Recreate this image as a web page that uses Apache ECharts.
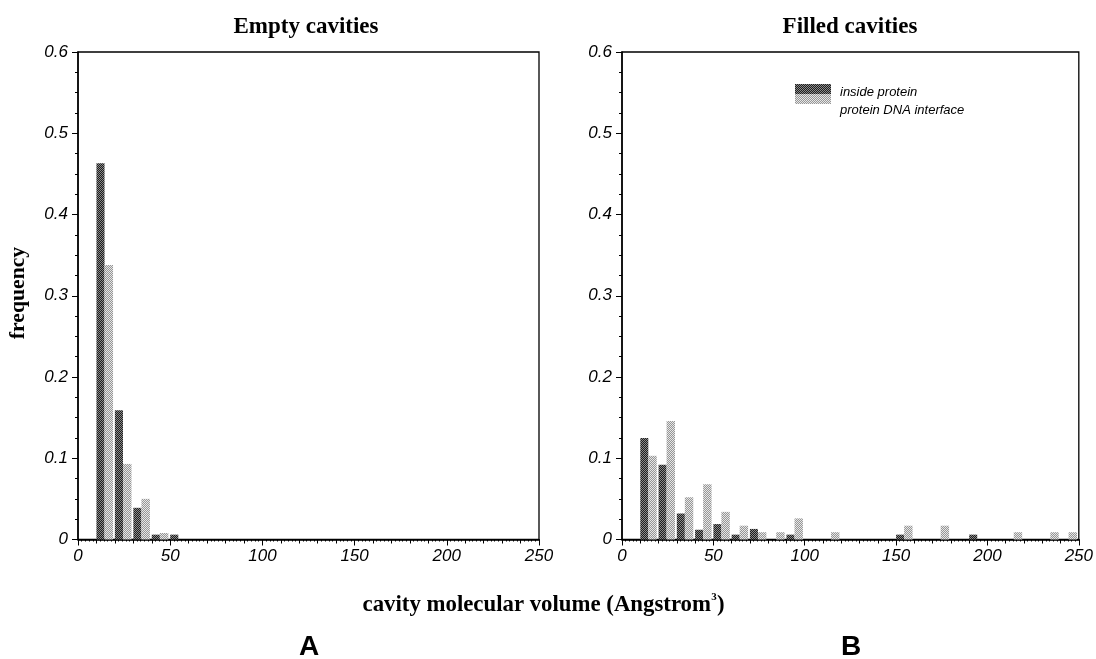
<!DOCTYPE html>
<html>
<head>
<meta charset="utf-8">
<script src="https://cdn.jsdelivr.net/npm/echarts@6/dist/echarts.min.js"></script>
<style>
html,body{margin:0;padding:0;background:#fff;}
#chart{width:1096px;height:659px;}
</style>
</head>
<body>
<div id="chart"></div>
<script>
// ---- data (bin start in Angstrom^3, bin width 10) ----
var binStarts = [10, 20, 30, 40, 50, 60, 70, 80, 90, 100, 110, 120, 130, 140, 150, 160, 170, 180, 190, 200, 210, 220, 230, 240];
var emptyInside    = [0.463, 0.159, 0.039, 0.006, 0.006, 0, 0, 0, 0, 0, 0, 0, 0, 0, 0, 0, 0, 0, 0, 0, 0, 0, 0, 0];
var emptyInterface = [0.338, 0.093, 0.050, 0.008, 0, 0, 0, 0, 0, 0, 0, 0, 0, 0, 0, 0, 0, 0, 0, 0, 0, 0, 0, 0];
var filledInside    = [0.125, 0.092, 0.032, 0.012, 0.019, 0.006, 0.013, 0, 0.006, 0, 0, 0, 0, 0, 0.006, 0, 0, 0, 0.006, 0, 0, 0, 0, 0];
var filledInterface = [0.103, 0.146, 0.052, 0.068, 0.034, 0.017, 0.009, 0.009, 0.026, 0, 0.009, 0, 0, 0, 0.017, 0, 0.017, 0, 0, 0, 0.009, 0, 0.009, 0.009];
var yTicks = [0, 0.1, 0.2, 0.3, 0.4, 0.5, 0.6];
var xTicks = [0, 50, 100, 150, 200, 250];
var panelTitles = ['Empty cavities', 'Filled cavities'];
var panelLetters = ['A', 'B'];
var legendNames = ['inside protein', 'protein DNA interface'];

function pair(xs, vs){ return xs.map(function(x,i){ return [x, vs[i]]; }); }

function checker(c1, c2){
  var cv = document.createElement('canvas');
  cv.width = 2; cv.height = 2;
  var ctx = cv.getContext('2d');
  ctx.fillStyle = c1; ctx.fillRect(0,0,2,2);
  ctx.fillStyle = c2; ctx.fillRect(0,0,1,1); ctx.fillRect(1,1,1,1);
  return {type:'pattern', image: cv, repeat: 'repeat'};
}
var darkFill = checker('#1e1e1e', '#8a8a8a');
var lightFill = checker('#969696', '#e6e6e6');

function makeRender(offset, width, fill){
  return function(params, api){
    var v = api.value(1);
    if (!v) return null;
    var x0 = api.value(0) + offset;
    var p0 = api.coord([x0, v]);
    var p1 = api.coord([x0 + width, 0]);
    return {type:'rect', shape:{x:p0[0], y:p0[1], width:p1[0]-p0[0], height:p1[1]-p0[1]}, style:{fill: fill}};
  };
}

var tickFont = {fontFamily:'Liberation Sans', fontStyle:'italic', fontSize:17, color:'#000'};
var grids = [
  {left:78, right:557, top:52, bottom:119.5, show:true, borderColor:'#000', borderWidth:1.3, backgroundColor:'transparent'},
  {left:622, right:17, top:52, bottom:119.5, show:true, borderColor:'#000', borderWidth:1.3, backgroundColor:'transparent'}
];
var xAxes = [], yAxes = [];
[0,1].forEach(function(g){
  xAxes.push({gridIndex:g, type:'value', position:'bottom', min:xTicks[0], max:xTicks[xTicks.length-1], interval:xTicks[1]-xTicks[0],
    axisLine:{show:true, lineStyle:{color:'#000', width:1.5}},
    axisTick:{show:true, length:6, lineStyle:{color:'#000', width:1}},
    axisLabel:Object.assign({margin:8, showMinLabel:true, showMaxLabel:true}, tickFont),
    splitLine:{show:false}});
  xAxes.push({gridIndex:g, type:'value', position:'bottom', min:xTicks[0], max:xTicks[xTicks.length-1], interval:10,
    axisLine:{show:false},
    axisTick:{show:true, length:4, lineStyle:{color:'#000', width:1}},
    minorTick:{show:true, splitNumber:5, length:2, lineStyle:{color:'#000', width:1}},
    axisLabel:{show:false}, splitLine:{show:false}});
  yAxes.push({gridIndex:g, type:'value', position:'left', min:yTicks[0], max:yTicks[yTicks.length-1], interval:yTicks[1]-yTicks[0],
    axisLine:{show:true, lineStyle:{color:'#000', width:1.5}},
    axisTick:{show:true, length:6, lineStyle:{color:'#000', width:1}},
    minorTick:{show:true, splitNumber:4, length:3, lineStyle:{color:'#000', width:1}},
    axisLabel:Object.assign({margin:10, showMinLabel:true, showMaxLabel:true,
      formatter:function(v){ return v === 0 ? '0' : v.toFixed(1); }}, tickFont),
    splitLine:{show:false}});
});

var series = [
  {type:'custom', name:legendNames[0], xAxisIndex:0, yAxisIndex:0, data:pair(binStarts, emptyInside), renderItem:makeRender(0, 4.4, darkFill)},
  {type:'custom', name:legendNames[1], xAxisIndex:0, yAxisIndex:0, data:pair(binStarts, emptyInterface), renderItem:makeRender(4.4, 4.6, lightFill)},
  {type:'custom', name:legendNames[0], xAxisIndex:2, yAxisIndex:1, data:pair(binStarts, filledInside), renderItem:makeRender(0, 4.4, darkFill)},
  {type:'custom', name:legendNames[1], xAxisIndex:2, yAxisIndex:1, data:pair(binStarts, filledInterface), renderItem:makeRender(4.4, 4.6, lightFill)}
];

var serifBold = {fontFamily:'Liberation Serif', fontWeight:'bold', fill:'#000'};
var graphic = [
  {type:'text', x:306, y:27, style:Object.assign({text:panelTitles[0], fontSize:23, textAlign:'center', textVerticalAlign:'middle'}, serifBold)},
  {type:'text', x:850, y:27, style:Object.assign({text:panelTitles[1], fontSize:23, textAlign:'center', textVerticalAlign:'middle'}, serifBold)},
  {type:'text', x:18, y:293, rotation:Math.PI/2, style:Object.assign({text:'frequency', fontSize:21.7, textAlign:'center', textVerticalAlign:'middle'}, serifBold)},
  {type:'text', x:711, y:605, style:Object.assign({text:'cavity molecular volume (Angstrom', fontSize:22.8, textAlign:'right', textVerticalAlign:'middle'}, serifBold)},
  {type:'text', x:714, y:597, style:Object.assign({text:'3', fontSize:11, textAlign:'center', textVerticalAlign:'middle'}, serifBold)},
  {type:'text', x:717, y:605, style:Object.assign({text:')', fontSize:22.8, textAlign:'left', textVerticalAlign:'middle'}, serifBold)},
  {type:'text', x:309, y:647, style:{text:panelLetters[0], fontFamily:'Liberation Sans', fontWeight:'bold', fontSize:28, fill:'#000', textAlign:'center', textVerticalAlign:'middle'}},
  {type:'text', x:851, y:647, style:{text:panelLetters[1], fontFamily:'Liberation Sans', fontWeight:'bold', fontSize:28, fill:'#000', textAlign:'center', textVerticalAlign:'middle'}},
  {type:'rect', shape:{x:795, y:84, width:36, height:10}, style:{fill:darkFill}},
  {type:'rect', shape:{x:795, y:94, width:36, height:10}, style:{fill:lightFill}},
  {type:'text', x:840, y:92, style:{text:legendNames[0], fontFamily:'Liberation Sans', fontStyle:'italic', fontSize:13, fill:'#000', textVerticalAlign:'middle'}},
  {type:'text', x:840, y:110, style:{text:legendNames[1], fontFamily:'Liberation Sans', fontStyle:'italic', fontSize:13, fill:'#000', textVerticalAlign:'middle'}}
];

var chart = echarts.init(document.getElementById('chart'), null, {renderer:'canvas'});
chart.setOption({
  backgroundColor:'#fff',
  animation:false,
  grid:grids, xAxis:xAxes, yAxis:yAxes, series:series, graphic:graphic
});
</script>
</body>
</html>
